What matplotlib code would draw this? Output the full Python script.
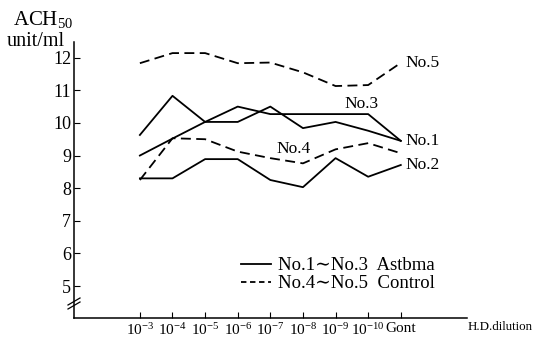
import numpy as np
import matplotlib
matplotlib.use("Agg")
import matplotlib.pyplot as plt
from matplotlib.lines import Line2D

plt.rcParams['font.family'] = ['Liberation Serif', 'DejaVu Serif']
plt.rcParams['mathtext.fontset'] = 'custom'
plt.rcParams['mathtext.rm'] = 'Liberation Serif'
plt.rcParams['mathtext.it'] = 'Liberation Serif:italic'
plt.rcParams['mathtext.bf'] = 'Liberation Serif:bold'

# ---- data ----
categories = [r"$10^{-3}$", r"$10^{-4}$", r"$10^{-5}$", r"$10^{-6}$", r"$10^{-7}$",
              r"$10^{-8}$", r"$10^{-9}$", r"$10^{-10}$", "Gont"]
no1 = [9.63, 10.83, 10.03, 10.03, 10.50, 9.84, 10.03, 9.76, 9.45]
no2 = [8.30, 8.30, 8.89, 8.89, 8.25, 8.03, 8.92, 8.35, 8.71]
no3 = [9.00, 9.52, 10.03, 10.50, 10.27, 10.27, 10.27, 10.27, 9.45]
no4 = [8.25, 9.53, 9.50, 9.12, 8.92, 8.76, 9.19, 9.38, 9.07]
no5 = [11.83, 12.14, 12.14, 11.83, 11.85, 11.55, 11.13, 11.16, 11.84]
yticks = [5, 6, 7, 8, 9, 10, 11, 12]
legend_labels = ["No.1\u223cNo.3  Astbma", "No.4\u223cNo.5  Control"]

W, H = 537, 339
fig = plt.figure(figsize=(W / 100, H / 100), dpi=100)
ax = fig.add_axes([74 / W, 1 - 318 / H, (467 - 74) / W, (318 - 42) / H])

x = np.arange(len(categories))
lw = 1.3
dash = (5.5, 3)
ax.plot(x, no1, color='black', lw=lw)
ax.plot(x, no2, color='black', lw=lw)
ax.plot(x, no3, color='black', lw=lw)
ax.plot(x, no4, color='black', lw=lw, linestyle=(0, dash))
ax.plot(x, no5, color='black', lw=lw, linestyle=(0, dash))

ax.set_xlim(-2.02, 10.03)
ax.set_ylim(4.02, 12.48)

for s in ['top', 'right']:
    ax.spines[s].set_visible(False)
for s in ['left', 'bottom']:
    ax.spines[s].set_linewidth(1.1)

ax.set_yticks(yticks)
ax.set_yticklabels([str(v) for v in yticks], fontsize=13)
ax.set_xticks(x)
ax.set_xticklabels(categories, fontsize=11)
ax.tick_params(axis='y', direction='in', length=4, width=0.8, pad=2)
ax.tick_params(axis='x', direction='in', length=4, width=0.8, pad=3)

# series labels
fs = 12.5
ax.annotate("No.5", xy=(x[-1], no5[-1]), xytext=(3, 0), textcoords='offset points',
            va='center', ha='left', fontsize=fs)
ax.annotate("No.1", xy=(x[-1], no1[-1]), xytext=(3, 0), textcoords='offset points',
            va='center', ha='left', fontsize=fs)
ax.annotate("No.2", xy=(x[-1], no2[-1]), xytext=(3, 0), textcoords='offset points',
            va='center', ha='left', fontsize=fs)
ax.text(6.8, 10.58, "No.3", ha='center', va='center', fontsize=fs)
ax.text(4.7, 9.2, "No.4", ha='center', va='center', fontsize=fs)

# legend
handles = [Line2D([], [], color='black', lw=lw),
           Line2D([], [], color='black', lw=lw, linestyle=(0, (3, 2)))]
fig.legend(handles, legend_labels, loc='upper left',
           bbox_to_anchor=(241 / W, 1 - 257 / H), frameon=False,
           fontsize=13.5, handlelength=1.6, handletextpad=0.4,
           labelspacing=0.05, borderpad=0, borderaxespad=0)

# axis titles
fig.text(13 / W, 1 - 20 / H, r"ACH$_{\mathrm{50}}$", fontsize=15, va='center', ha='left')
fig.text(7 / W, 1 - 41 / H, "unit/ml", fontsize=14.5, va='center', ha='left')
fig.text(468 / W, 1 - 327 / H, "H.D.dilution", fontsize=9.3, va='center', ha='left')

# y-axis break mark
trans = fig.transFigure
ax.add_line(Line2D([74 / W, 74 / W], [1 - 298 / H, 1 - 307 / H], transform=trans,
                   color='white', lw=3, clip_on=False))
for dy in (0, 4):
    ax.add_line(Line2D([68 / W, 80 / W], [1 - (305 + dy) / H, 1 - (298 + dy) / H],
                       transform=trans, color='black', lw=0.9, clip_on=False))

fig.savefig("out.png", dpi=100)
